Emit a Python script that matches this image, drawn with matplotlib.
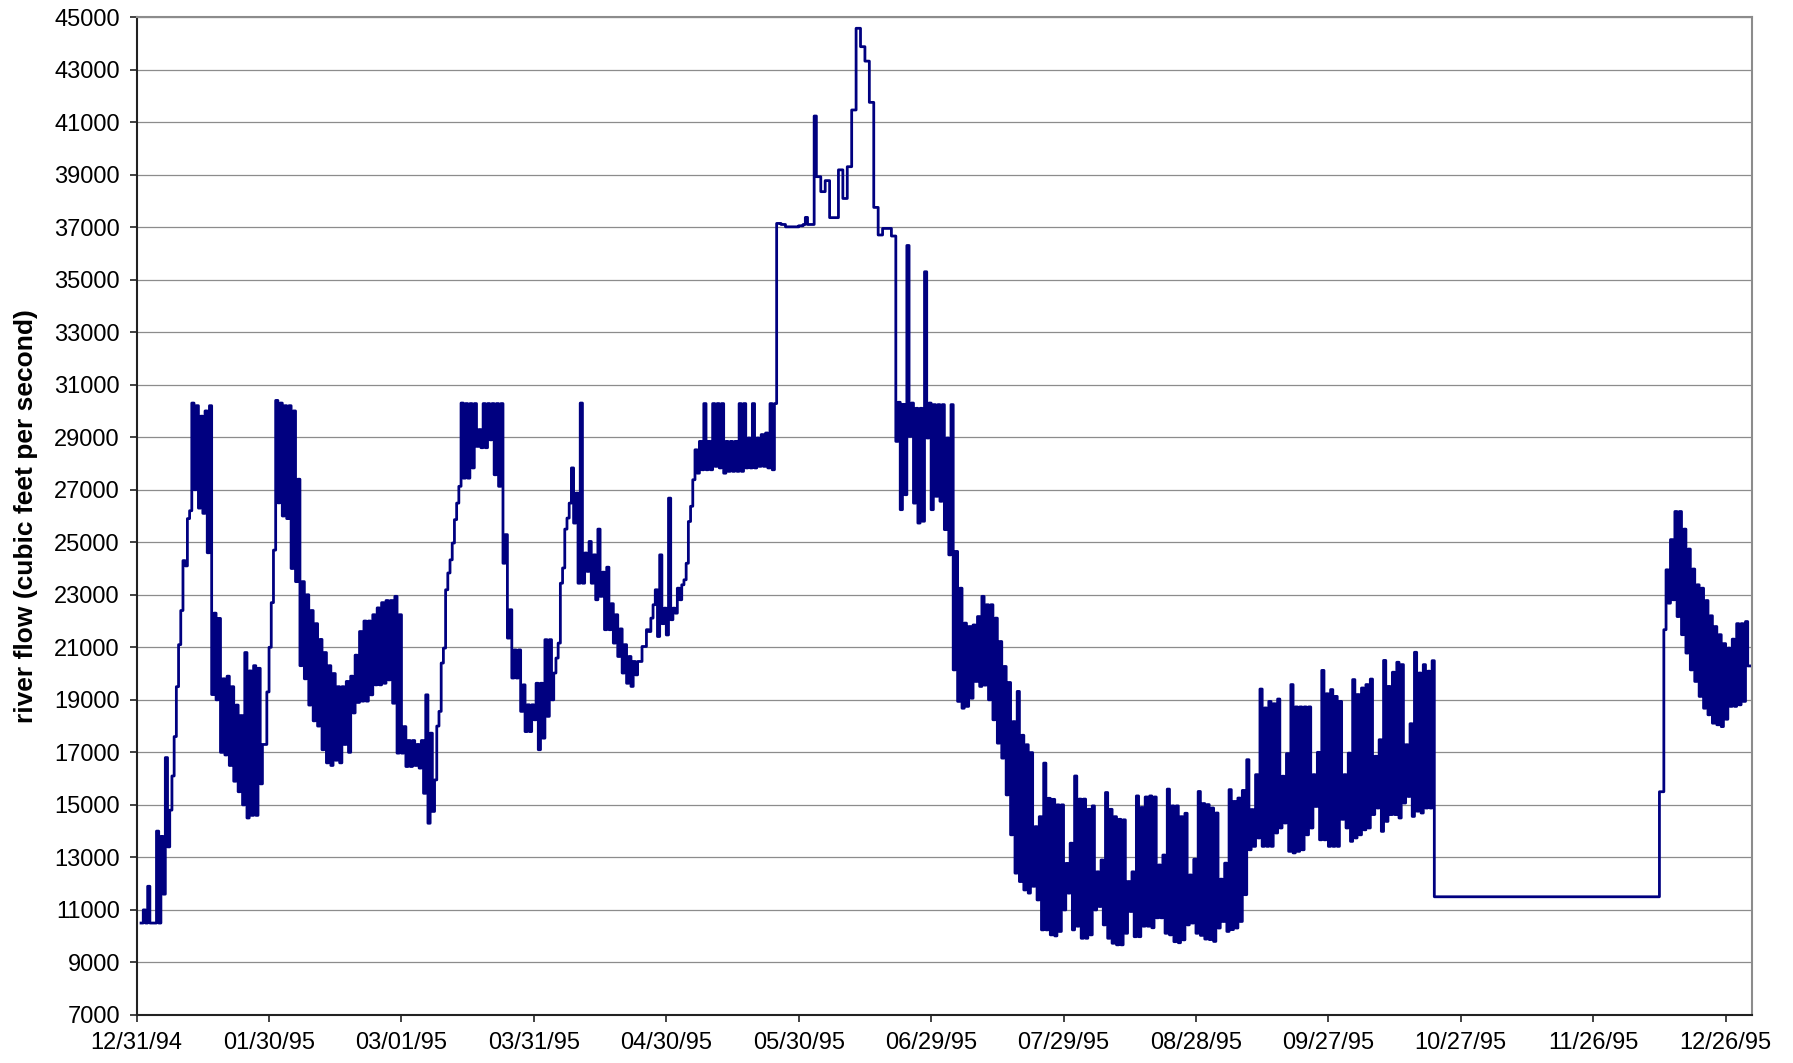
import datetime as dt
import numpy as np
import matplotlib
matplotlib.use("Agg")
import matplotlib.pyplot as plt
import matplotlib.dates as mdates
from matplotlib.ticker import FixedLocator

plt.rcParams['font.family'] = ['Liberation Sans', 'DejaVu Sans']

# daily flow readings (cfs), one pair per day starting 01/01/95
# each day: low part of the day, then high part
flow_high = [
    11000, 11900, 10500, 14000, 13800, 16800, 14800, 17600, 21100, 24300,
    25900, 30300, 30200, 29800, 30000, 30200, 22300, 22100, 19800, 19900,
    19500, 18800, 18400, 20800, 20100, 20300, 20200, 17300, 19300, 22700,
    30400, 30300, 30200, 30200, 30000, 27400, 23500, 23000, 22400, 21900,
    21300, 20800, 20300, 20000, 19500, 19500, 19700, 19900, 20700, 21600,
    22000, 22000, 22240, 22500, 22700, 22780, 22780, 22940, 22240, 17980,
    17450, 17450, 17300, 17450, 19190, 17730, 15950, 18560, 20970, 23830,
    24970, 26490, 30300, 30280, 30280, 30280, 29290, 30280, 30280, 30280,
    30280, 30280, 25290, 22430, 20900, 20900, 19570, 18810, 18810, 19630,
    19630, 21290, 21290, 20020, 21160, 24020, 25920, 27830, 26870, 30300,
    24590, 25030, 24520, 25500, 23860, 24050, 22660, 22240, 21700, 21100,
    20650, 20460, 20460, 21030, 21670, 22110, 23190, 24520, 22490, 26680,
    22490, 23250, 23380, 24200, 26370, 28520, 28840, 30280, 28840, 30280,
    30280, 30280, 28840, 28840, 28840, 30280, 30280, 28970, 30280, 28970,
    29100, 29160, 30280, 30280,
    37140, 37100, 37010, 37010, 37010, 37050, 37370, 37100, 41230, 38920,
    38350, 38770, 37360, 37360, 39180, 38090, 39300, 41460, 44570, 43870,
    43320, 41750, 37750, 36700, 36950, 36950, 36660,
    30330, 30250, 36300, 30300, 30100, 30100, 35300, 30300, 30240, 30240,
    30240, 28970, 30240,
    24650, 23250, 21920, 21790, 21850, 22170, 22940, 22620, 22620, 22110,
    21220, 20270, 19660, 18170, 19320, 17650, 17290, 16990, 14170, 14550,
    16590, 15250, 15210, 15000, 15000, 12770, 13540, 16100, 15220, 15220,
    14830, 14960, 12450, 12900, 15470, 14830, 14550, 14450, 14430, 12080,
    12450, 15340, 14900, 15300, 15340, 15300, 12710, 13090, 15600, 14960,
    14960, 14550, 14680, 12330, 12930, 15510, 15050, 15010, 14880, 14690,
    12170, 12780, 15580, 15130, 15260, 15550, 16720, 14820, 16150, 19410,
    18690, 18940, 18850, 19030, 16090, 16950, 19580, 18730, 18730, 18730,
    18730, 16150, 17000, 20120, 19230, 19390, 19130, 18940, 16150, 16970,
    19770, 19200, 19450, 19580, 19790, 16850, 17480, 20500, 19510, 20050,
    20430, 20340, 17290, 18090, 20810, 20020, 20340, 20090, 20490,
    11500, 11500, 11500, 11500, 11500, 11500, 11500, 11500, 11500, 11500,
    11500, 11500, 11500, 11500, 11500, 11500, 11500, 11500, 11500, 11500,
    11500, 11500, 11500, 11500, 11500, 11500, 11500, 11500, 11500, 11500,
    11500, 11500, 11500, 11500, 11500, 11500, 11500, 11500, 11500, 11500,
    11500, 11500, 11500, 11500, 11500, 11500, 11500, 11500, 11500, 11500,
    11500, 15500,
    23950, 25100, 26170, 26170, 25500, 24740, 23980, 23380, 23250, 22780,
    22200, 21790, 21480, 21140, 20970, 21310, 21900, 21900, 21980, 20290,
]

flow_low = [
    10500, 10500, 10500, 10500, 10500, 11600, 13400, 16100, 19500, 22400,
    24100, 26200, 27000, 26300, 26100, 24600, 19200, 19000, 17000, 16900,
    16500, 15900, 15500, 15000, 14500, 14600, 14600, 15800, 17300, 21000,
    24700, 26500, 26000, 25900, 24000, 23500, 20300, 19800, 18800, 18200,
    18000, 17100, 16600, 16500, 16700, 16600, 17300, 17000, 18500, 18900,
    18950, 18950, 19190, 19570, 19570, 19630, 19760, 18870, 16970, 16970,
    16460, 16460, 16500, 16400, 15440, 14300, 14750, 18000, 20400, 23190,
    24330, 25860, 27130, 27440, 27440, 27830, 28650, 28600, 28600, 28900,
    27570, 27130, 24200, 21350, 19830, 19830, 18560, 17790, 17790, 18240,
    17100, 17540, 18370, 19000, 20590, 23440, 25500, 26490, 25730, 23440,
    23440, 23890, 23440, 22810, 22940, 21670, 21670, 21160, 20650, 20020,
    19630, 19510, 19950, 20460, 21030, 21600, 22620, 21410, 21900, 21470,
    22050, 22300, 22810, 23570, 25790, 27380, 27630, 27760, 27760, 27760,
    27890, 27830, 27630, 27700, 27700, 27700, 27700, 27830, 27830, 27830,
    27890, 27890, 27830, 27760,
    37140, 37100, 37010, 37010, 37010, 37050, 37100, 37100, 37100, 38920,
    38350, 38770, 37360, 37360, 39180, 38090, 39300, 41460, 44570, 43870,
    43320, 41750, 37750, 36700, 36950, 36950, 36660,
    28840, 26240, 26810, 29030, 26490, 25730, 25800, 28970, 26240, 26750,
    26560, 25480, 24520,
    20140, 18940, 18680, 18750, 19060, 19700, 19510, 19560, 19000, 18240,
    17350, 16780, 15380, 13860, 12400, 12080, 11760, 11640, 11900, 11380,
    10240, 10240, 10050, 10010, 10180, 11000, 11640, 10240, 10380, 9920,
    9920, 10050, 11000, 11130, 10430, 9920, 9730, 9670, 9670, 10110,
    10940, 9980, 9980, 10380, 10380, 10320, 10700, 10700, 10110, 10050,
    9790, 9750, 9860, 10430, 10500, 10110, 10030, 9890, 9870, 9800,
    10310, 10560, 10180, 10250, 10310, 10560, 11580, 13290, 13420, 13740,
    13420, 13420, 13420, 13930, 14120, 14310, 13230, 13170, 13230, 13290,
    13860, 14120, 14940, 13670, 13670, 13420, 13420, 13420, 14450, 14120,
    13610, 13740, 13860, 14050, 14120, 14630, 14880, 13990, 14370, 14630,
    14630, 14500, 15070, 15320, 14560, 14760, 14690, 14880, 14880,
    11500, 11500, 11500, 11500, 11500, 11500, 11500, 11500, 11500, 11500,
    11500, 11500, 11500, 11500, 11500, 11500, 11500, 11500, 11500, 11500,
    11500, 11500, 11500, 11500, 11500, 11500, 11500, 11500, 11500, 11500,
    11500, 11500, 11500, 11500, 11500, 11500, 11500, 11500, 11500, 11500,
    11500, 11500, 11500, 11500, 11500, 11500, 11500, 11500, 11500, 11500,
    11500, 15500,
    21670, 22680, 22810, 22170, 21480, 20780, 20140, 19700, 19130, 18680,
    18430, 18110, 18050, 17980, 18260, 18750, 18750, 18810, 18940, 20290,
]

start_date = dt.datetime(1994, 12, 31)
tick_labels = ['12/31/94', '01/30/95', '03/01/95', '03/31/95', '04/30/95',
               '05/30/95', '06/29/95', '07/29/95', '08/28/95', '09/27/95',
               '10/27/95', '11/26/95', '12/26/95']
y_ticks = list(range(7000, 45001, 2000))

# build the half-day step series
base = mdates.date2num(start_date)
t, v = [], []
for i, (lo, hi) in enumerate(zip(flow_low, flow_high)):
    d = base + i + 1
    t += [d, d + 0.5]
    v += [lo, hi]
t.append(base + len(flow_high) + 1)
v.append(flow_high[-1])

fig = plt.figure(figsize=(17.93, 10.63), dpi=100)
ax = fig.add_axes([0.0762, 0.0452, 0.9010, 0.9388])

ax.plot(t, v, drawstyle='steps-post', color='#000080', lw=2.0)

ax.set_xlim(base, base + 366)
ax.set_ylim(7000, 45000)
ax.set_yticks(y_ticks)
ax.set_yticklabels([str(y) for y in y_ticks])
tick_pos = [mdates.date2num(dt.datetime.strptime(s, '%m/%d/%y')) for s in tick_labels]
ax.xaxis.set_major_locator(FixedLocator(tick_pos))
ax.xaxis.set_major_formatter(mdates.DateFormatter('%m/%d/%y'))

ax.grid(axis='y', color='#8c8c8c', lw=0.9)
ax.set_axisbelow(True)
for side in ['top', 'right']:
    ax.spines[side].set_color('#8c8c8c')
    ax.spines[side].set_linewidth(1.5)
for side in ['left', 'bottom']:
    ax.spines[side].set_color('#222222')
    ax.spines[side].set_linewidth(1.5)

ax.tick_params(axis='both', direction='out', length=5, width=1.2,
               color='#222222', labelsize=17, pad=7)
ax.set_ylabel('river flow (cubic feet per second)', fontsize=19,
              fontweight='bold')
ax.yaxis.set_label_coords(-0.061, 0.5)

fig.savefig('out.png', dpi=100)
